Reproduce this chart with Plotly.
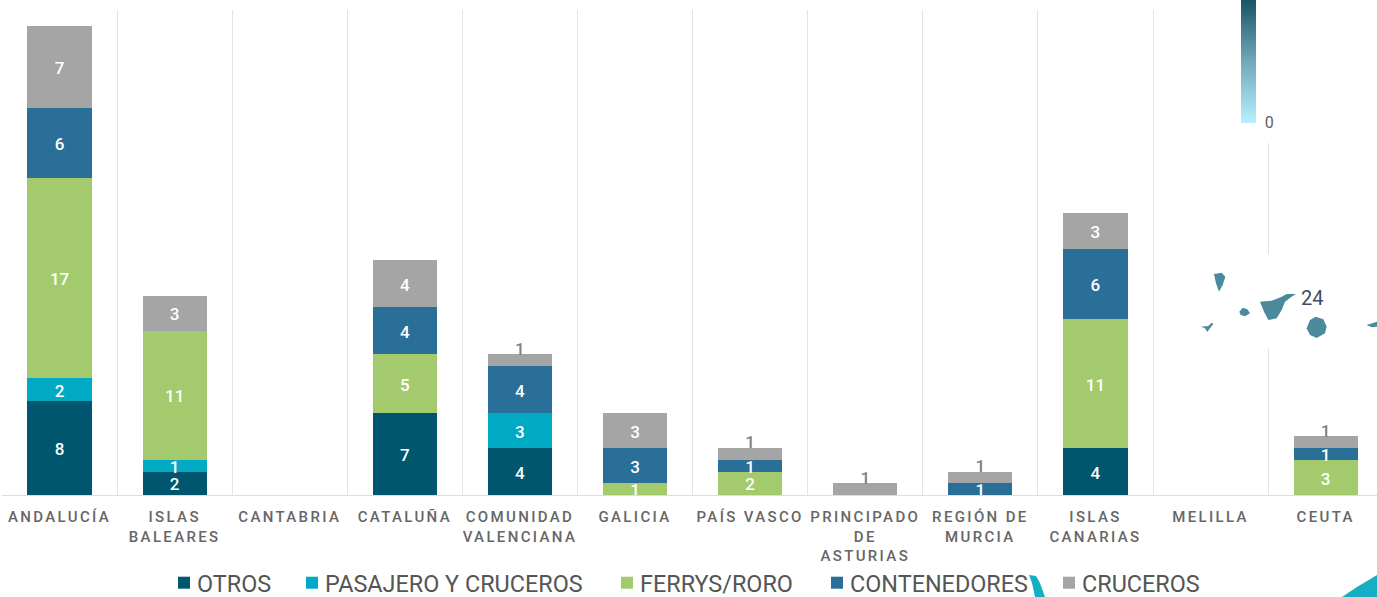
import plotly.graph_objects as go

categories = ["ANDALUCÍA", "ISLAS<br>BALEARES", "CANTABRIA", "CATALUÑA", "COMUNIDAD<br>VALENCIANA",
              "GALICIA", "PAÍS VASCO", "PRINCIPADO<br>DE<br>ASTURIAS", "REGIÓN DE<br>MURCIA",
              "ISLAS<br>CANARIAS", "MELILLA", "CEUTA"]
otros = [8, 2, 0, 7, 4, 0, 0, 0, 0, 4, 0, 0]
pasajero = [2, 1, 0, 0, 3, 0, 0, 0, 0, 0, 0, 0]
ferrys = [17, 11, 0, 5, 0, 1, 2, 0, 0, 11, 0, 3]
contenedores = [6, 0, 0, 4, 4, 3, 1, 0, 1, 6, 0, 1]
cruceros = [7, 3, 0, 4, 1, 3, 1, 1, 1, 3, 0, 1]

series_names = ["OTROS", "PASAJERO Y CRUCEROS", "FERRYS/RORO", "CONTENEDORES", "CRUCEROS"]
series_values = [otros, pasajero, ferrys, contenedores, cruceros]
series_colors = ["#00566E", "#00A9C4", "#A3CB6E", "#2A6F98", "#A5A5A5"]

W, H = 1377, 597
L, T, B = 2, 10, 495
YMAX = (B - T) / 11.73
x_range = [-0.5, -0.5 + (W - L) / 115.1]

fig = go.Figure()
base = [0] * len(categories)
label_sets = []
for name, vals, col in zip(series_names, series_values, series_colors):
    fig.add_bar(x=categories, y=vals, name=name, marker=dict(color=col, line=dict(width=0)), hoverinfo="x+y+name")
    tx, ty, tt, tc = [], [], [], []
    for i, v in enumerate(vals):
        if v:
            top_label = name == "CRUCEROS" and v == 1
            tx.append(categories[i])
            ty.append(base[i] + v + 0.33 if top_label else base[i] + v / 2 - 0.25)
            tt.append(str(v))
            tc.append("#7f7f7f" if top_label else "#ffffff")
        base[i] += v
    label_sets.append((tx, ty, tt, tc))

for tx, ty, tt, tc in label_sets:
    fig.add_scatter(x=tx, y=ty, text=tt, mode="text", textposition="middle center",
                    textfont=dict(family="Roboto", size=17, color=tc, weight=500), showlegend=False,
                    hoverinfo="skip", cliponaxis=True)

# colour ramp legend of the map behind the chart
fig.add_scatter(x=[None], y=[None], mode="markers", showlegend=False, hoverinfo="skip",
                marker=dict(color=[0], cmin=0, cmax=40, showscale=True,
                            colorscale=[[0, "#B8F0FF"], [0.5, "#6FA5B5"], [1, "#0F4D5F"]],
                            colorbar=dict(x=1241 / W, xref="container", xanchor="left", thickness=15,
                                          y=(H - 151) / H, yref="container", yanchor="bottom", ypad=0, xpad=0,
                                          lenmode="pixels", len=128, outlinewidth=0, tickmode="array",
                                          tickvals=[0], ticktext=["0"], ticks="outside", ticklen=6, tickwidth=0,
                                          tickcolor="rgba(0,0,0,0)",
                                          tickfont=dict(family="Roboto", size=16, color="#5f5f5f"))))

island_color = "#4A8A9C"
la_palma = [(192, 822), (215, 818), (226, 830), (218, 855), (207, 875), (198, 850)]
la_gomera = [(268, 935), (278, 923), (292, 928), (300, 940), (285, 949), (272, 945)]
el_hierro = [(153, 980), (175, 978), (185, 968), (190, 972), (180, 985), (172, 996), (165, 985)]
tenerife = [(330, 905), (365, 902), (395, 890), (410, 882), (438, 882), (425, 890), (405, 905),
            (395, 930), (380, 955), (355, 960), (342, 935)]
gran_canaria = [(470, 985), (480, 960), (497, 950), (520, 958), (530, 980), (525, 1000), (500, 1014), (480, 1005)]
fuerte = [(650, 975), (681, 965), (681, 980), (665, 982)]
sliver = [(1029, 575), (1036, 576), (1040, 583), (1045, 597), (1035, 597), (1032, 583)]
corner = [(1342, 597), (1357, 587), (1377, 575), (1377, 597)]


def path(pts, ox=0, oy=0, k=1):
    xa, ya = [], []
    for px, py in pts:
        xa.append((ox + px / k - L) / (W - L))
        ya.append((B - (oy + py / k)) / (B - T))
    return "M" + "L".join(f"{a:.5f},{b:.5f}" for a, b in zip(xa, ya)) + "Z"


shapes = []
# white panels of the overlapping map hide part of one gridline
for y0, y1 in [(9, 143), (254, 348)]:
    shapes.append(dict(type="rect", xref="paper", yref="paper", layer="above",
                       x0=(1262 - L) / (W - L), x1=(1276 - L) / (W - L),
                       y0=(B - y1) / (B - T), y1=(B - y0) / (B - T),
                       fillcolor="white", line=dict(width=0)))
for pts in [la_palma, la_gomera, el_hierro, tenerife, gran_canaria, fuerte]:
    shapes.append(dict(type="path", xref="paper", yref="paper", layer="above", path=path(pts, 1150, 0, 3),
                       fillcolor=island_color, line=dict(width=0)))
for pts in [sliver, corner]:
    shapes.append(dict(type="path", xref="paper", yref="paper", layer="above", path=path(pts),
                       fillcolor="#14AFC2", line=dict(width=0)))

fig.update_layout(
    width=W, height=H, barmode="stack", bargap=0.443, plot_bgcolor="white", paper_bgcolor="white",
    margin=dict(l=L, r=0, t=T, b=H - B, pad=0, autoexpand=False), shapes=shapes,
    xaxis=dict(type="category", categoryorder="array", categoryarray=categories, range=x_range, tickson="boundaries",
               showgrid=True, gridcolor="#E4E4E4", gridwidth=1, ticks="", showline=True, linecolor="#DDDDDD",
               linewidth=1, tickangle=0, ticklabelstandoff=8, automargin=False,
               tickfont=dict(family="Roboto", size=15, color="#666666", weight=500), zeroline=False),
    yaxis=dict(range=[0, YMAX], visible=False, showgrid=False, zeroline=False),
    legend=dict(orientation="h", x=0.5, xanchor="center", y=(B - 583) / (B - T), yanchor="middle",
                traceorder="normal", font=dict(family="Roboto", size=23.4, color="#555555"),
                bgcolor="rgba(0,0,0,0)"),
    annotations=[dict(xref="paper", yref="paper", x=(1312 - L) / (W - L), y=(B - 298) / (B - T), text="24",
                      xanchor="center", showarrow=False, font=dict(family="Roboto", size=20, color="#3D4A68"))],
    showlegend=True,
)

post = """
var s=document.createElement('style');
s.textContent='body{margin:0}.xtick text{letter-spacing:2.35px}';
document.head.appendChild(s);
var lg=document.querySelector('.legend');
var m=/translate\\(([-\\d.]+)/.exec(lg.getAttribute('transform'));
var lx=m?parseFloat(m[1]):0;
var sb=lg.querySelector('.scrollbox');
if(sb){sb.removeAttribute('clip-path');}
var targets=[178,306,621,831,1063];
lg.querySelectorAll('.traces').forEach(function(t,i){
  var my=/translate\\(([-\\d.]+),\\s*([-\\d.]+)/.exec(t.getAttribute('transform'));
  t.setAttribute('transform','translate('+(targets[i]-14-lx)+','+my[2]+')');
  var tx=t.querySelector('.legendtext');
  if(tx){tx.setAttribute('x',33);}
});
"""
fig.write_html("out.html", post_script=post, config={"displayModeBar": False})
